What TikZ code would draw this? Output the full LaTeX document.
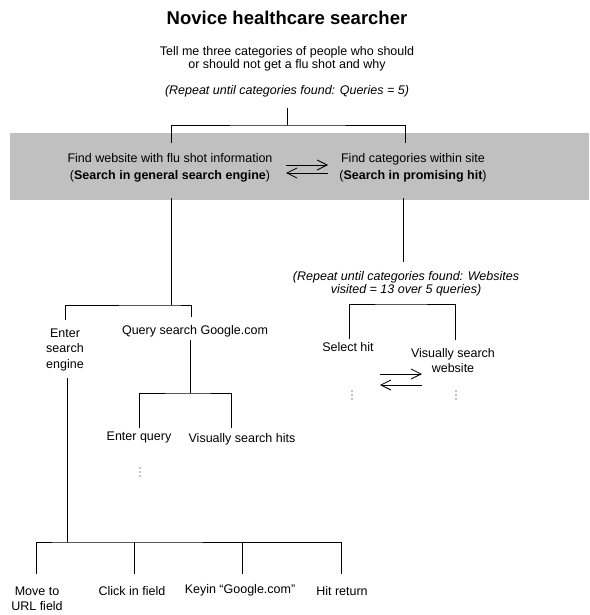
\documentclass[tikz,border=0pt]{standalone}
\usepackage{fontspec}
\setmainfont{Liberation Sans}
\usetikzlibrary{arrows.meta}
\definecolor{boxgray}{RGB}{192,192,192}
\begin{document}
\begin{tikzpicture}[x=1pt,y=-1pt,
  txt/.style={inner sep=0pt, align=center, font=\fontsize{12.5}{13}\selectfont},
  rep/.style={txt, font=\fontsize{12.5}{13}\selectfont\itshape},
  tree/.style={line width=1pt},
  swap/.style={line width=0.8pt, -{Straight Barb[length=10pt,width=10pt,line width=0.8pt]}},
  dot/.style={fill=black, inner sep=0pt, minimum size=1.3pt, circle}]
\useasboundingbox (0,0) rectangle (589,615);
\fill[boxgray] (10,133) rectangle (589,200);

% texts
\node[inner sep=0pt, font=\fontsize{18.5}{20}\selectfont\bfseries] (title) at (287,18) {Novice healthcare searcher};
\node[txt] (task) at (287,58.5) {Tell me three categories of people who should\\or should not get a flu shot and why};
\node[rep] (rep1) at (287,91) {(Repeat until categories found: Queries = 5)};
\node[txt, font=\fontsize{12.5}{17}\selectfont] (find) at (170,167.5) {Find website with flu shot information\\(\textbf{Search in general search engine})};
\node[txt, font=\fontsize{12.5}{17}\selectfont] (cat) at (413,167.5) {Find categories within site\\(\textbf{Search in promising hit})};
\node[rep] (rep2) at (406,283.5) {(Repeat until categories found: Websites\\visited = 13 over 5 queries)};
\node[txt] (sel) at (348,347) {Select hit};
\node[txt, font=\fontsize{12.5}{15}\selectfont] (vsw) at (453,360.5) {Visually search\\website};
\node[txt, font=\fontsize{12.5}{15.5}\selectfont] (ese) at (65,349.5) {Enter\\search\\engine};
\node[txt] (qsg) at (195,331) {Query search Google.com};
\node[txt] (eq) at (139,437) {Enter query};
\node[txt] (vsh) at (242,439) {Visually search hits};
\node[txt, font=\fontsize{12.5}{15}\selectfont] (mov) at (37,598.5) {Move to\\URL field};
\node[txt] (clk) at (132,591) {Click in field};
\node[txt] (key) at (240,590) {Keyin “Google.com”};
\node[txt] (hit) at (342,591) {Hit return};

% vertical ellipses
\foreach \n/\x/\y in {d1/352/395, d2/456/395, d3/140/472} {
  \node[dot] (\n a) at (\x,\y-4) {};
  \node[dot] (\n b) at (\x,\y) {};
  \node[dot] (\n c) at (\x,\y+4) {};
}

% tree coordinates
\coordinate (t0) at (287,108);
\coordinate (b0) at (287,125);
\coordinate (fTop) at (171,143);
\coordinate (cTop) at (405,143);
\draw[tree] (t0) -- (b0);
\draw[tree] (fTop) |- (b0) -| (cTop);

% left branch
\coordinate (fBot) at (171,198);
\coordinate (b1) at (171,305);
\coordinate (eseTop) at (65,320);
\coordinate (qsgTop) at (191,317);
\draw[tree] (fBot) -- (b1);
\draw[tree] (eseTop) |- (b1) -| (qsgTop);

\coordinate (qsgBot) at (190,340);
\coordinate (b2) at (190,393);
\coordinate (eqTop) at (139,428);
\coordinate (vshTop) at (231,428);
\draw[tree] (qsgBot) -- (b2);
\draw[tree] (eqTop) |- (b2) -| (vshTop);

\coordinate (eseBot) at (67,378);
\coordinate (b3) at (67,542);
\coordinate (movTop) at (36,574);
\coordinate (clkTop) at (134,574);
\coordinate (keyTop) at (242,574);
\coordinate (hitTop) at (341,574);
\draw[tree] (eseBot) -- (b3);
\draw[tree] (movTop) |- (b3) -| (hitTop);
\draw[tree] (clkTop) -- (clkTop |- b3);
\draw[tree] (keyTop) -- (keyTop |- b3);

% right branch
\coordinate (cBot) at (403,198);
\coordinate (cEnd) at (403,262);
\draw[tree] (cBot) -- (cEnd);
\coordinate (b4) at (400,304);
\coordinate (selTop) at (349,339);
\coordinate (vswTop) at (455,340);
\draw[tree] (selTop) |- (b4) -| (vswTop);

% swap arrows
\draw[swap] (286,165) -- (328,165);
\draw[swap] (328,173) -- (286,173);
\draw[swap] (380,374) -- (422,374);
\draw[swap] (422,385) -- (380,385);
\end{tikzpicture}
\end{document}
